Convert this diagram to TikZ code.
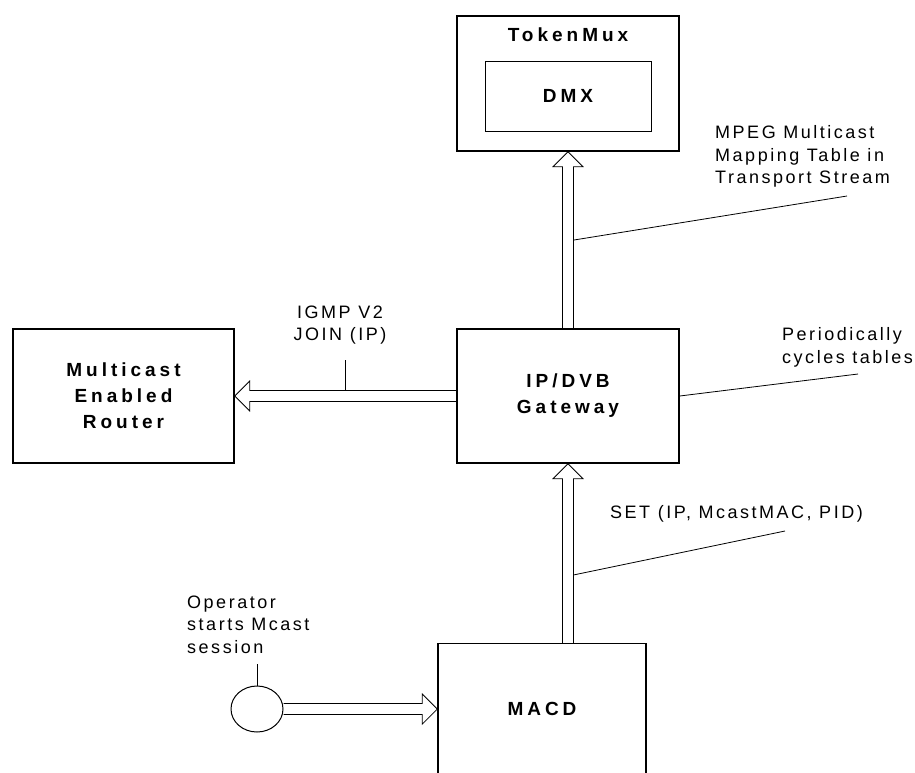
\documentclass[tikz,border=0pt]{standalone}
\usepackage{fontspec}
\setmainfont{Liberation Sans}
\newfontfamily\notefont[LetterSpace=14]{Liberation Sans}
\newfontfamily\boxfont[LetterSpace=21]{Liberation Sans}
\usetikzlibrary{calc,positioning,shapes.geometric}

\begin{document}
\begin{tikzpicture}
[x=1pt, y=-1pt,
    box/.style={draw, line width=1.4pt, minimum width=222pt, minimum height=134pt,
        inner sep=0pt, align=center, font=\boxfont\bfseries\fontsize{19}{26}\selectfont},
    boxname/.style={inner sep=0pt, font=\boxfont\bfseries\fontsize{19}{26}\selectfont},
    note/.style={align=left, inner sep=0pt, font=\notefont\fontsize{18}{22.5}\selectfont},
    callout/.style={line width=0.8pt},
    hollow/.style={line width=0.8pt, to path={
        ($(\tikztotarget)!15pt!(\tikztostart)$) coordinate (hb)
        ($(\tikztostart)!5.5pt!90:(\tikztotarget)$) -- ($(hb)!5.5pt!90:(\tikztotarget)$)
        -- ($(hb)!15pt!90:(\tikztotarget)$) -- (\tikztotarget)
        -- ($(hb)!15pt!-90:(\tikztotarget)$) -- ($(hb)!5.5pt!-90:(\tikztotarget)$)
        -- ($(\tikztostart)!5.5pt!-90:(\tikztotarget)$)}}]
\useasboundingbox (0,0) rectangle (915,772);

% boxes
\node [box, minimum height=135pt] (tm) at (568,83.5) {};
\node [boxname, below=12pt of tm.north] (tmname) {TokenMux};
\node [box, line width=0.9pt, minimum width=166pt, minimum height=70pt] (dmx) at (568,96) {DMX};
\node [box] (gw) at (568,396) {IP/DVB\\Gateway};
\node [box, minimum width=221pt] (rt) at (123.5,396) {Multicast\\Enabled\\Router};
\node [box, minimum width=208pt, minimum height=270pt, anchor=north] (macd) at (542,643) {};
\node [draw, ellipse, line width=1pt, minimum width=52pt, minimum height=46pt] (op) at (257,709) {};
\node [boxname] (macdname) at (macd.north |- op) {MACD};

% notes
\node [note, anchor=north west] (mpeg) at (715,125.5) {MPEG Multicast\\Mapping Table in\\Transport Stream};
\node [note, anchor=north west] (cycles) at (782,327.5) {Periodically\\cycles tables};
\node [note, anchor=north west] (setcmd) at (610,505.5) {SET (IP, McastMAC, PID)};
\node [note, anchor=north west] (oper) at (187,595.5) {Operator\\starts Mcast\\session};
\node [note, align=center, anchor=north] (igmp) at (340,305.5) {IGMP V2\\JOIN (IP)};

% block arrows
\coordinate (macdtop) at (macd.north -| gw.south);
\coordinate (macdin) at (op.east -| macd.west);
\draw [hollow] (gw.north) to (tm.south);
\draw [hollow] (macdtop) to (gw.south);
\draw [hollow] (gw.west) to (rt.east);
\draw [hollow] (op.east) to (macdin);

% callout lines
\coordinate (mpegfoot) at ([xshift=6pt]$(gw.north)!0.5!(tm.south)$);
\coordinate (mpegend) at (847,196);
\coordinate (setfoot) at ([xshift=6pt]$(gw.south)!0.62!(macdtop)$);
\coordinate (setend) at (785,531);
\coordinate (cycend) at (858,374);
\coordinate (igmpfoot) at ([yshift=5.5pt]$(gw.west)!0.5!(rt.east)$);
\draw [callout] (mpegfoot) -- (mpegend);
\draw [callout] (setfoot) -- (setend);
\draw [callout] (gw.east) -- (cycend);
\draw [callout] (igmpfoot) -- ++(0,-31);
\draw [callout] (op.north) -- ++(0,-22);
\end{tikzpicture}
\end{document}
